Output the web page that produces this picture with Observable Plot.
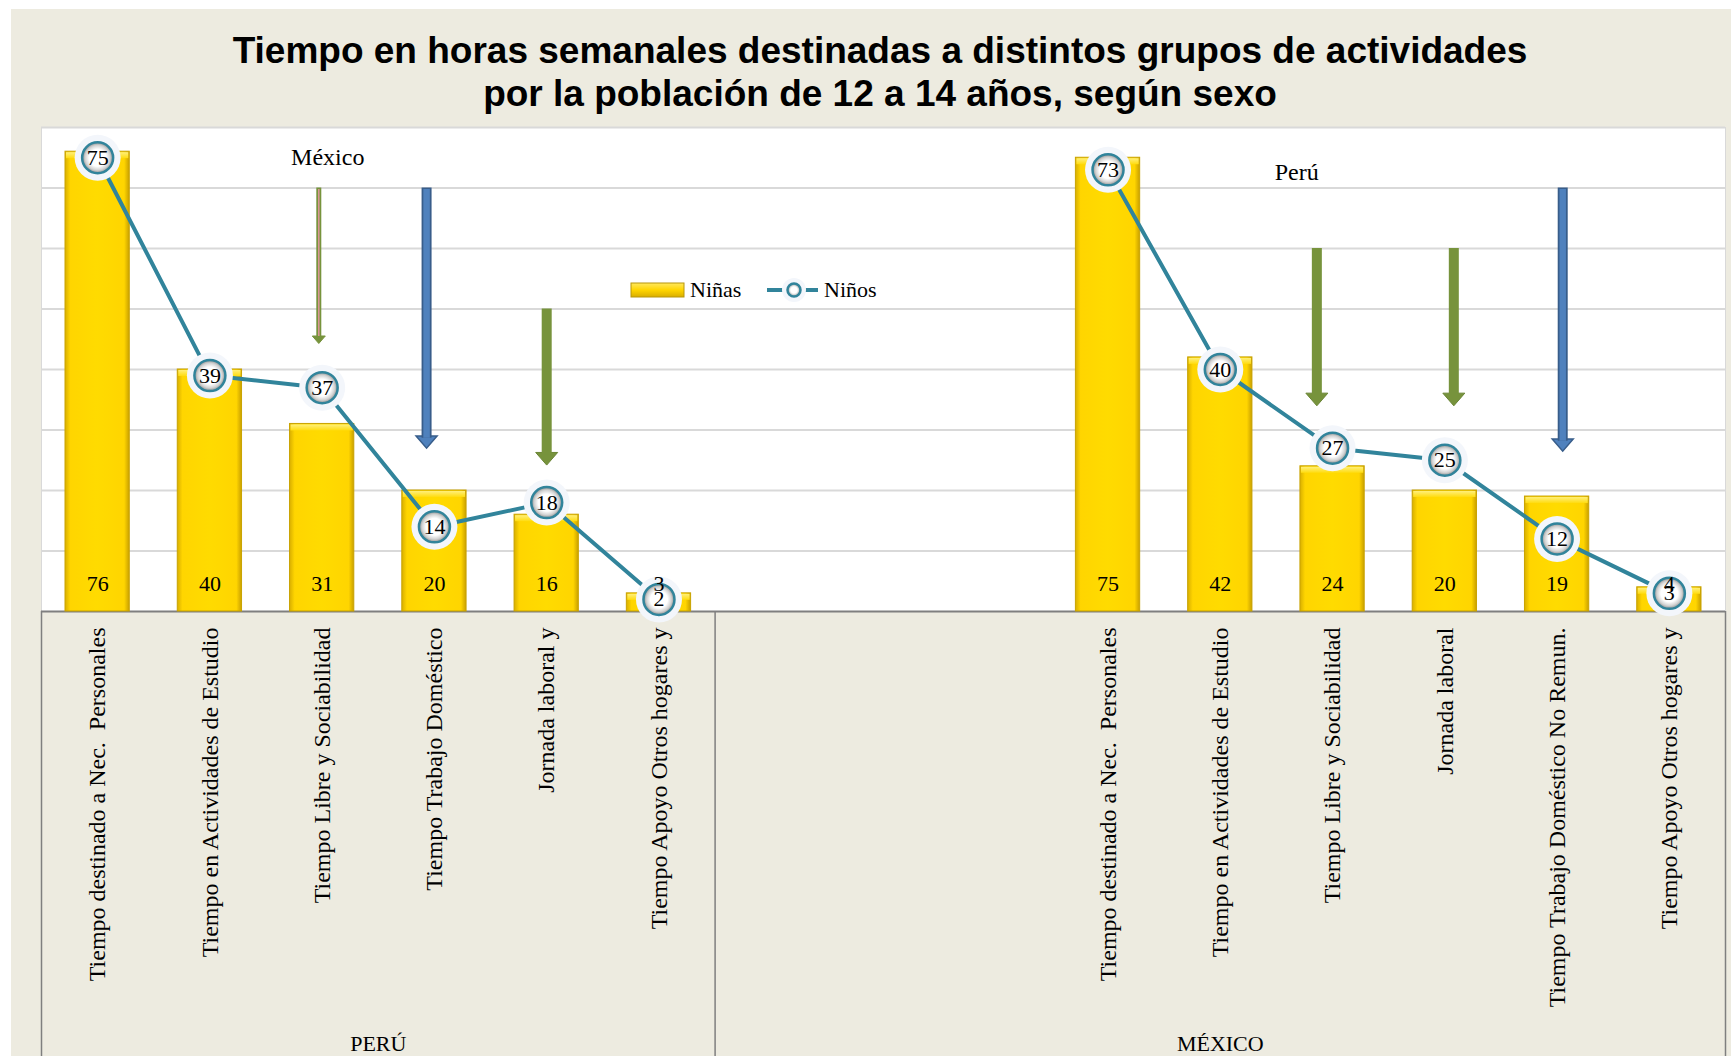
<!DOCTYPE html>
<html><head><meta charset="utf-8">
<script src="https://cdn.jsdelivr.net/npm/d3@7"></script>
<script src="https://cdn.jsdelivr.net/npm/@observablehq/plot@0.6"></script>
<style>
html,body{margin:0;padding:0;background:#fff;}
body{width:1731px;height:1056px;overflow:hidden;position:relative;font-family:"Liberation Serif","Times New Roman",serif;}
#panel{position:absolute;left:11px;top:9px;right:0;bottom:0;background:#EDEBE0;}
#title{position:absolute;left:30px;width:1700px;top:29px;text-align:center;font:bold 37px/43px "Liberation Sans",Arial,sans-serif;color:#000;}
#chart{position:absolute;left:0;top:127px;}
#legend{position:absolute;left:0;top:0;pointer-events:none;}
</style></head><body>
<div id="panel"></div>
<div id="title">Tiempo en horas semanales destinadas a distintos grupos de actividades<br>por la población de 12 a 14 años, según sexo</div>
<div id="chart"></div>
<svg id="legend" width="1731" height="1056"></svg>
<script>
// ---------- data ----------
const groups = ["PERÚ", "MÉXICO"];
const peruCategories = ["Tiempo destinado a Nec.  Personales", "Tiempo en Actividades de Estudio", "Tiempo Libre y Sociabilidad", "Tiempo Trabajo Doméstico", "Jornada laboral y", "Tiempo Apoyo Otros hogares y"];
const mexicoCategories = ["Tiempo destinado a Nec.  Personales", "Tiempo en Actividades de Estudio", "Tiempo Libre y Sociabilidad", "Jornada laboral", "Tiempo Trabajo Doméstico No Remun.", "Tiempo Apoyo Otros hogares y"];
const peruNinas = [76, 40, 31, 20, 16, 3];
const peruNinos = [75, 39, 37, 14, 18, 2];
const mexicoNinas = [75, 42, 24, 20, 19, 4];
const mexicoNinos = [73, 40, 27, 25, 12, 3];
const seriesNames = ["Niñas", "Niños"];
const emptySlots = 3;
const yTicks = [10, 20, 30, 40, 50, 60, 70, 80];
// arrow annotations: position along the category axis (slots) and hours
const arrowX = [2.47, 3.43, 4.5, 11.36, 12.58, 13.55];
const arrowTop = [70, 70, 50, 60, 60, 70];
const arrowTip = [44.3, 27, 24.2, 34, 34, 26.5];
const arrowKind = ["thin", "blue", "green", "green", "green", "blue"];
// text annotations
const noteLabels = ["México", "Perú"];
const noteX = [2.55, 11.18];
const noteY = [75, 72.6];

// ---------- derived tables ----------
const mexStart = peruCategories.length + emptySlots;
const totalSlots = mexStart + mexicoCategories.length;
const rows = [
  ...peruCategories.map((c, i) => ({group: groups[0], slot: i, cat: c, ninas: peruNinas[i], ninos: peruNinos[i]})),
  ...mexicoCategories.map((c, i) => ({group: groups[1], slot: mexStart + i, cat: c, ninas: mexicoNinas[i], ninos: mexicoNinos[i]}))
];
const groupRows = [
  {name: groups[0], from: 0, to: peruCategories.length},
  {name: groups[1], from: peruCategories.length, to: totalSlots}
];
const boundaries = [0, peruCategories.length, totalSlots];
const arrows = arrowX.map((x, i) => ({x, top: arrowTop[i], tip: arrowTip[i], kind: arrowKind[i]}));
const notes = noteLabels.map((t, i) => ({t, x: noteX[i], y: noteY[i]}));
const labelBySlot = new Map(rows.map(d => [d.slot + 0.5, d.cat]));
const cx = d => d.slot + 0.5;

const teal = "#31849B";
const green = "#77933C";
const blue = "#4F81BD";
const blueDark = "#385D8A";
const headDown = {
  draw(context, size) {
    const r = Math.sqrt(size / Math.PI);
    const h = r * 1.15;
    context.moveTo(-r, -h);
    context.lineTo(r, -h);
    context.lineTo(0, 0);
    context.closePath();
  }
};

const plot = Plot.plot({
  width: 1731,
  height: 929,
  marginTop: 0,
  marginBottom: 445,
  marginLeft: 41,
  marginRight: 6,
  style: {background: "transparent", fontFamily: "'Liberation Serif','Times New Roman',serif", color: "#000", overflow: "visible"},
  x: {domain: [0, totalSlots]},
  y: {domain: [0, 80], axis: null},
  marks: [
    Plot.frame({fill: "white", stroke: "#D9D9D9", strokeWidth: 1}),
    Plot.gridY(yTicks, {stroke: "#D9D9D9", strokeOpacity: 1, strokeWidth: 2}),
    Plot.ruleX(boundaries, {y1: 0, y2: -80, stroke: "#7F7F7F", strokeWidth: 1.5}),
    Plot.ruleY([0], {stroke: "#7F7F7F", strokeWidth: 2}),
    Plot.rectY(rows, {x1: "slot", x2: d => d.slot + 1, y: "ninas", insetLeft: 24, insetRight: 24, fill: "url(#barGrad)", stroke: "#C9A300", strokeWidth: 1}),
    Plot.rect(rows, {x1: "slot", x2: d => d.slot + 1, y1: "ninas", y2: "ninas", insetLeft: 25, insetRight: 25, insetTop: 1, insetBottom: -7, fill: "url(#bevelGrad)"}),
    // arrows: heads
    Plot.dot(arrows, {filter: d => d.kind === "blue", x: "x", y: "tip", r: 10.5, symbol: headDown, fill: blue, stroke: blueDark, strokeWidth: 1.5}),
    Plot.dot(arrows, {filter: d => d.kind === "green", x: "x", y: "tip", r: 11, symbol: headDown, fill: green, stroke: "#6A8535", strokeWidth: 1}),
    Plot.dot(arrows, {filter: d => d.kind === "thin", x: "x", y: "tip", r: 6.5, symbol: headDown, fill: green, stroke: green, strokeWidth: 1}),
    // arrows: shafts
    Plot.ruleX(arrows, {filter: d => d.kind === "blue", x: "x", y1: "top", y2: "tip", insetBottom: 10, stroke: blueDark, strokeWidth: 10}),
    Plot.ruleX(arrows, {filter: d => d.kind === "blue", x: "x", y1: "top", y2: "tip", insetTop: 1.5, insetBottom: 10, stroke: blue, strokeWidth: 6.5}),
    Plot.ruleX(arrows, {filter: d => d.kind === "green", x: "x", y1: "top", y2: "tip", insetBottom: 10, stroke: green, strokeWidth: 10}),
    Plot.ruleX(arrows, {filter: d => d.kind === "thin", x: "x", y1: "top", y2: "tip", insetBottom: 6, stroke: green, strokeWidth: 5}),
    Plot.ruleX(arrows, {filter: d => d.kind === "thin", x: "x", y1: "top", y2: "tip", insetTop: 1.5, insetBottom: 7, stroke: "#D99694", strokeWidth: 1.6}),
    // Niños line with markers
    Plot.line(rows, {x: cx, y: "ninos", z: "group", stroke: teal, strokeWidth: 4}),
    Plot.dot(rows, {x: cx, y: "ninos", r: 23, fill: "#F3F6FB"}),
    Plot.dot(rows, {x: cx, y: "ninos", r: 15.5, fill: "url(#circGrad)", stroke: teal, strokeWidth: 2.5}),
    Plot.text(rows, {x: cx, y: "ninos", text: d => String(d.ninos), fontSize: 22, fill: "#000"}),
    // Niñas values at the bottom of bars
    Plot.text(rows, {x: cx, y: 0, dy: -28, text: d => String(d.ninas), fontSize: 22, fill: "#000"}),
    // notes
    Plot.text(notes, {x: "x", y: "y", text: "t", fontSize: 24, fill: "#000"}),
    // category axis
    Plot.axisX({ticks: [...labelBySlot.keys()], tickFormat: v => labelBySlot.get(v) ?? "", tickRotate: -90, tickSize: 0, tickPadding: 16, fontSize: 24, textAnchor: "end", lineAnchor: "middle", label: null, fill: "#000"}),
    // group labels
    Plot.text(groupRows, {x: d => (d.from + d.to) / 2, y: 0, dy: 432, text: "name", fontSize: 22, fill: "#000"})
  ]
});

const defs = document.createElementNS("http://www.w3.org/2000/svg", "defs");
defs.innerHTML = `
<linearGradient id="barGrad" x1="0" y1="0" x2="1" y2="0">
  <stop offset="0" stop-color="#D8AF00"/><stop offset="0.08" stop-color="#FFD500"/>
  <stop offset="0.5" stop-color="#FFDB00"/><stop offset="0.92" stop-color="#FFD500"/>
  <stop offset="1" stop-color="#C9A000"/>
</linearGradient>
<linearGradient id="bevelGrad" x1="0" y1="0" x2="0" y2="1">
  <stop offset="0" stop-color="#FFEF7A"/><stop offset="1" stop-color="#FFDC10"/>
</linearGradient>
<radialGradient id="circGrad" cx="0.5" cy="0.5" r="0.5">
  <stop offset="0" stop-color="#FFFFFF"/><stop offset="0.55" stop-color="#FFFFFF"/>
  <stop offset="0.8" stop-color="#D2D2D2"/><stop offset="1" stop-color="#8C8C8C"/>
</radialGradient>`;
plot.insertBefore(defs, plot.firstChild);
document.getElementById("chart").appendChild(plot);

// legend (inside the plot area, as in the reference)
const leg = document.getElementById("legend");
leg.innerHTML = `
<defs>
<linearGradient id="legGrad" x1="0" y1="0" x2="0" y2="1">
  <stop offset="0" stop-color="#FFE860"/><stop offset="0.5" stop-color="#FFD500"/><stop offset="1" stop-color="#D9AE00"/>
</linearGradient>
<radialGradient id="legCirc" cx="0.5" cy="0.5" r="0.5">
  <stop offset="0" stop-color="#FFFFFF"/><stop offset="0.5" stop-color="#FFFFFF"/><stop offset="1" stop-color="#999"/>
</radialGradient>
</defs>
<rect x="631" y="283" width="53" height="14" fill="url(#legGrad)" stroke="#B8960A" stroke-width="1"/>
<text x="690" y="297" font-family="'Liberation Serif',serif" font-size="22" fill="#000">${seriesNames[0]}</text>
<line x1="767" y1="290" x2="818" y2="290" stroke="${teal}" stroke-width="4"/>
<circle cx="794" cy="290" r="12" fill="#F3F6FB"/>
<circle cx="794" cy="290" r="6.5" fill="url(#legCirc)" stroke="${teal}" stroke-width="2.5"/>
<text x="824" y="297" font-family="'Liberation Serif',serif" font-size="22" fill="#000">${seriesNames[1]}</text>`;
</script>
</body></html>
